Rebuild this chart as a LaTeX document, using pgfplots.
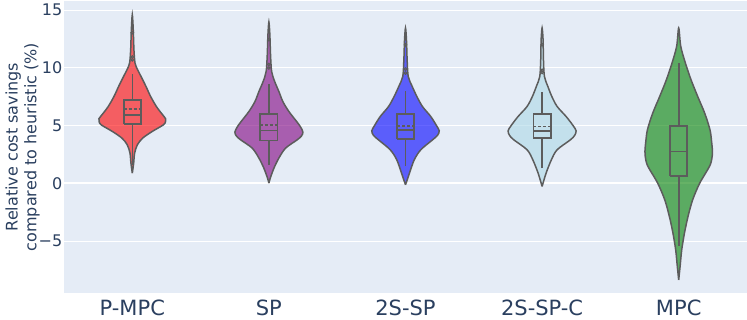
\documentclass[border=0pt]{standalone}
\usepackage{pgfplots}
\pgfplotsset{compat=1.18}
\usepackage{pgfplotstable}
\usepackage{fontspec}
\setmainfont{DejaVu Sans}
\definecolor{bgc}{RGB}{229,236,246}
\definecolor{txt}{RGB}{42,63,95}
\definecolor{lg}{RGB}{92,92,92}
\definecolor{cpurple}{RGB}{128,0,128}
\definecolor{cblue}{RGB}{0,0,255}
\definecolor{clight}{RGB}{173,216,230}
\definecolor{cgreen}{RGB}{0,128,0}
\definecolor{cred}{RGB}{255,0,0}

% violin outlines: y and signed half width (category units); right side up, left side down
\pgfplotstableread{
y w
0.88 0
1.75 0.010
2.62 0.017
3.34 0.037
3.92 0.076
4.49 0.145
5.07 0.228
5.35 0.243
5.6 0.244
6.09 0.212
6.66 0.176
7.53 0.134
8.4 0.100
9.26 0.064
9.84 0.039
10.42 0.020
11.58 0.012
13.3 0.007
14.61 0
13.3 -0.007
11.58 -0.012
10.42 -0.020
9.84 -0.039
9.26 -0.064
8.4 -0.100
7.53 -0.134
6.66 -0.176
6.09 -0.212
5.6 -0.244
5.35 -0.243
5.07 -0.228
4.49 -0.145
3.92 -0.076
3.34 -0.037
2.62 -0.017
1.75 -0.010
0.88 0
}\vA
\pgfplotstableread{
y w
0.02 0
0.45 0.010
1.32 0.037
2.19 0.073
3.05 0.122
3.77 0.207
4.1 0.238
4.44 0.249
4.9 0.231
5.36 0.203
6.23 0.146
7.09 0.102
7.96 0.073
8.83 0.042
9.7 0.020
11.14 0.012
12.88 0.007
13.98 0
12.88 -0.007
11.14 -0.012
9.7 -0.020
8.83 -0.042
7.96 -0.073
7.09 -0.102
6.23 -0.146
5.36 -0.203
4.9 -0.231
4.44 -0.249
4.1 -0.238
3.77 -0.207
3.05 -0.122
2.19 -0.073
1.32 -0.037
0.45 -0.010
0.02 0
}\vB
\pgfplotstableread{
y w
-0.13 0
0.88 0.029
2.04 0.064
2.91 0.112
3.77 0.198
4.15 0.234
4.55 0.247
5.0 0.227
5.79 0.185
6.66 0.124
7.53 0.083
8.4 0.049
9.26 0.020
10.71 0.012
12.45 0.007
13.46 0
12.45 -0.007
10.71 -0.012
9.26 -0.020
8.4 -0.049
7.53 -0.083
6.66 -0.124
5.79 -0.185
5.0 -0.227
4.55 -0.247
4.15 -0.234
3.77 -0.198
2.91 -0.112
2.04 -0.064
0.88 -0.029
-0.13 0
}\vC
\pgfplotstableread{
y w
-0.27 0
0.88 0.029
2.04 0.068
2.91 0.110
3.77 0.207
4.15 0.238
4.55 0.249
5.0 0.227
5.79 0.176
6.66 0.110
7.53 0.071
8.4 0.042
9.26 0.017
10.71 0.010
12.45 0.007
13.46 0
12.45 -0.007
10.71 -0.010
9.26 -0.017
8.4 -0.042
7.53 -0.071
6.66 -0.110
5.79 -0.176
5.0 -0.227
4.55 -0.249
4.15 -0.238
3.77 -0.207
2.91 -0.110
2.04 -0.068
0.88 -0.029
-0.27 0
}\vD
\pgfplotstableread{
y w
-8.37 0
-7.22 0.010
-5.77 0.022
-4.32 0.042
-2.88 0.068
-1.43 0.102
0.02 0.154
1.46 0.225
2.1 0.242
2.76 0.247
3.6 0.241
4.64 0.229
6.09 0.190
7.53 0.139
8.98 0.090
10.42 0.049
11.87 0.015
13.46 0
11.87 -0.015
10.42 -0.049
8.98 -0.090
7.53 -0.139
6.09 -0.190
4.64 -0.229
3.6 -0.241
2.76 -0.247
2.1 -0.242
1.46 -0.225
0.02 -0.154
-1.43 -0.102
-2.88 -0.068
-4.32 -0.042
-5.77 -0.022
-7.22 -0.010
-8.37 0
}\vE

\begin{document}
\begin{tikzpicture}
\useasboundingbox (0pt,0pt) rectangle (747pt,320pt);
\begin{axis}[
  at={(64pt,27pt)}, anchor=south west,
  width=683pt, height=292pt, scale only axis,
  xmin=-0.5, xmax=4.5, ymin=-9.5, ymax=15.8,
  axis background/.style={fill=bgc},
  axis line style={draw=none},
  major tick length=0pt,
  xtick={0,1,2,3,4},
  xticklabels={P-MPC,SP,2S-SP,2S-SP-C,MPC},
  ytick={-5,0,5,10,15},
  yticklabels={−5,0,5,10,15},
  ymajorgrids, major grid style={white, line width=1pt},
  xticklabel style={font=\fontsize{21}{25}\selectfont, text=txt, anchor=north, inner sep=0pt, yshift=-7pt},
  yticklabel style={font=\fontsize{16}{19}\selectfont, text=txt, anchor=east, inner sep=0pt, xshift=-1.5pt},
  every axis y label/.style={at={(axis description cs:-0.0605,0.5)}, rotate=90, anchor=center, align=center, font=\fontsize{16}{18.7}\selectfont, text=txt},
  ylabel={Relative cost savings\\compared to heuristic (\%)},
  clip=false,
]
% zero line
\addplot[white, line width=2pt, forget plot] coordinates {(-0.5,0) (4.5,0)};

% violins
\addplot[draw=lg, line width=1.5pt, fill=cred, fill opacity=0.6, smooth] table[x expr=0+\thisrow{w}, y=y]{\vA};
\addplot[draw=lg, line width=1.5pt, fill=cpurple, fill opacity=0.6, smooth] table[x expr=1+\thisrow{w}, y=y]{\vB};
\addplot[draw=lg, line width=1.5pt, fill=cblue, fill opacity=0.6, smooth] table[x expr=2+\thisrow{w}, y=y]{\vC};
\addplot[draw=lg, line width=1.5pt, fill=clight, fill opacity=0.6, smooth] table[x expr=3+\thisrow{w}, y=y]{\vD};
\addplot[draw=lg, line width=1.5pt, fill=cgreen, fill opacity=0.6, smooth] table[x expr=4+\thisrow{w}, y=y]{\vE};

% boxes (Q1..Q3)
\addplot[draw=lg, line width=1.9pt] coordinates {(-0.063,5.13) (0.063,5.13) (0.063,7.24) (-0.063,7.24) (-0.063,5.13)};
\addplot[draw=lg, line width=1.9pt] coordinates {(0.937,3.71) (1.063,3.71) (1.063,6.0) (0.937,6.0) (0.937,3.71)};
\addplot[draw=lg, line width=1.9pt] coordinates {(1.937,3.86) (2.063,3.86) (2.063,6.0) (1.937,6.0) (1.937,3.86)};
\addplot[draw=lg, line width=1.9pt] coordinates {(2.937,3.92) (3.063,3.92) (3.063,6.0) (2.937,6.0) (2.937,3.92)};
\addplot[draw=lg, line width=1.9pt] coordinates {(3.937,0.65) (4.063,0.65) (4.063,4.99) (3.937,4.99) (3.937,0.65)};
% medians
\addplot[draw=lg, line width=1.9pt] coordinates {(-0.063,5.94) (0.063,5.94)};
\addplot[draw=lg, line width=1.9pt] coordinates {(0.937,4.58) (1.063,4.58)};
\addplot[draw=lg, line width=1.9pt] coordinates {(1.937,4.64) (2.063,4.64)};
\addplot[draw=lg, line width=1.9pt] coordinates {(2.937,4.55) (3.063,4.55)};
\addplot[draw=lg, line width=1.9pt] coordinates {(3.937,2.76) (4.063,2.76)};
% means
\addplot[draw=lg, line width=1.6pt, dash pattern=on 3pt off 2pt] coordinates {(-0.063,6.43) (0.063,6.43)};
\addplot[draw=lg, line width=1.6pt, dash pattern=on 3pt off 2pt] coordinates {(0.937,5.07) (1.063,5.07)};
\addplot[draw=lg, line width=1.6pt, dash pattern=on 3pt off 2pt] coordinates {(1.937,4.99) (2.063,4.99)};
\addplot[draw=lg, line width=1.6pt, dash pattern=on 3pt off 2pt] coordinates {(2.937,4.93) (3.063,4.93)};
% whiskers
\addplot[draw=lg, line width=1.6pt] coordinates {(0,1.6) (0,5.13)};
\addplot[draw=lg, line width=1.6pt] coordinates {(0,7.24) (0,9.5)};
\addplot[draw=lg, line width=1.6pt] coordinates {(1,1.6) (1,3.71)};
\addplot[draw=lg, line width=1.6pt] coordinates {(1,6.0) (1,8.6)};
\addplot[draw=lg, line width=1.6pt] coordinates {(2,1.46) (2,3.86)};
\addplot[draw=lg, line width=1.6pt] coordinates {(2,6.0) (2,7.96)};
\addplot[draw=lg, line width=1.6pt] coordinates {(3,1.32) (3,3.92)};
\addplot[draw=lg, line width=1.6pt] coordinates {(3,6.0) (3,7.88)};
\addplot[draw=lg, line width=1.6pt] coordinates {(4,-5.4) (4,0.65)};
\addplot[draw=lg, line width=1.6pt] coordinates {(4,4.99) (4,10.45)};
% outliers
\addplot[only marks, mark=o, mark size=1.3pt, draw=lg, line width=1pt] coordinates {
(0,10.7) (0,10.95) (0,13.05)
(1,9.99) (1,10.3) (1,12.45)
(2,9.56) (2,9.9) (2,12.0)
(3,9.6) (3,9.8) (3,12.0)
};
\end{axis}
\end{tikzpicture}
\end{document}
